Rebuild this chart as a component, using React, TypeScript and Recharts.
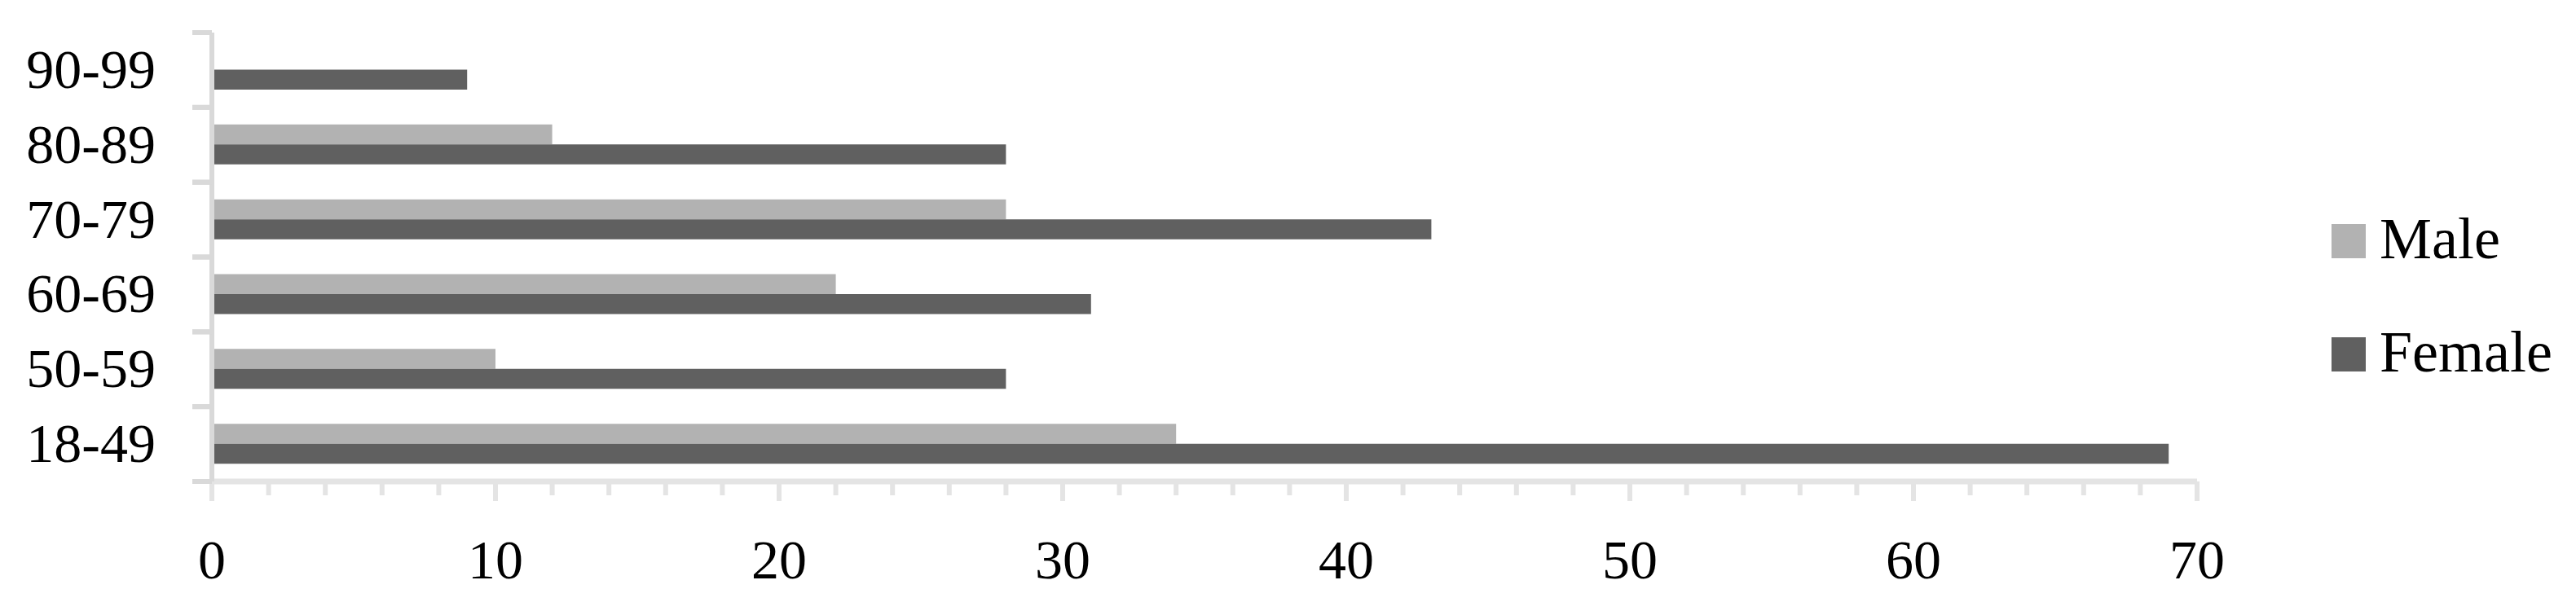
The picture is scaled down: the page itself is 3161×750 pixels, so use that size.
import React from "react";
import { BarChart, Bar, XAxis, YAxis, Legend } from "recharts";

const ageGroups = ["90-99", "80-89", "70-79", "60-69", "50-59", "18-49"];
const maleCounts = [0, 12, 28, 22, 10, 34];
const femaleCounts = [9, 28, 43, 31, 28, 69];
const xTicks = [0, 2, 4, 6, 8, 10, 12, 14, 16, 18, 20, 22, 24, 26, 28, 30, 32, 34, 36, 38, 40, 42, 44, 46, 48, 50, 52, 54, 56, 58, 60, 62, 64, 66, 68, 70];
const xLabelTicks = [0, 10, 20, 30, 40, 50, 60, 70];
const seriesNames = ["Male", "Female"];
const seriesColors = ["#b2b2b2", "#606060"];

const data = ageGroups.map((age, i) => ({
  age,
  Male: maleCounts[i],
  Female: femaleCounts[i],
}));

const FONT = "'Liberation Serif', 'Times New Roman', serif";
const Y_TICK_SIZE = 24;
const Y_TICK_MARGIN = 45;

const YTick = (props: any) => {
  const { x, y, payload } = props;
  const axisX = x + Y_TICK_SIZE + Y_TICK_MARGIN;
  const half = payload && payload.offset ? payload.offset : 45.9;
  return (
    <g>
      <line x1={axisX - Y_TICK_SIZE} x2={axisX} y1={y - half} y2={y - half} stroke="#d9d9d9" strokeWidth={6} />
      <line x1={axisX - Y_TICK_SIZE} x2={axisX} y1={y + half} y2={y + half} stroke="#d9d9d9" strokeWidth={6} />
      <text x={x} y={y} dy={22} textAnchor="end" fontFamily={FONT} fontSize={68} fill="#000">
        {payload.value}
      </text>
    </g>
  );
};

const XTick = (props: any) => {
  const { x, y, payload } = props;
  const major = xLabelTicks.includes(payload.value);
  return (
    <g>
      <line x1={x} x2={x} y1={y} y2={y + (major ? 24 : 17)} stroke="#e4e4e4" strokeWidth={6} />
      {major && (
        <text x={x} y={y + 119} textAnchor="middle" fontFamily={FONT} fontSize={68} fill="#000">
          {payload.value}
        </text>
      )}
    </g>
  );
};

const LegendContent = (props: any) => {
  const payload = [...(props.payload || [])].sort(
    (a: any, b: any) => seriesNames.indexOf(a.value) - seriesNames.indexOf(b.value)
  );
  return (
    <svg width={300} height={200} style={{ display: "block", overflow: "visible" }}>
      {payload.map((entry: any, i: number) => (
        <g key={entry.value} transform={`translate(0, ${i * 139})`}>
          <rect x={0} y={6} width={42} height={42} fill={entry.color} />
          <text x={59} y={48} fontFamily={FONT} fontSize={72} fill="#000">
            {entry.value}
          </text>
        </g>
      ))}
    </svg>
  );
};

export default function App() {
  return (
    <div style={{ position: "absolute", left: 0, top: 0, width: 3161, height: 750, background: "#fff" }}>
      <BarChart
        width={3161}
        height={750}
        data={data}
        layout="vertical"
        margin={{ top: 40, right: 465, bottom: 29, left: 0 }}
        barGap={0}
        barSize={24.5}
      >
        <XAxis
          type="number"
          domain={[0, 70]}
          ticks={xTicks}
          interval={0}
          height={130}
          tickSize={0}
          tickMargin={0}
          tickLine={false}
          axisLine={{ stroke: "#e4e4e4", strokeWidth: 7 }}
          tick={<XTick />}
        />
        <YAxis
          type="category"
          dataKey="age"
          width={260}
          interval={0}
          tickSize={Y_TICK_SIZE}
          tickMargin={Y_TICK_MARGIN}
          tickLine={false}
          axisLine={{ stroke: "#d9d9d9", strokeWidth: 6 }}
          tick={<YTick />}
        />
        <Legend
          layout="vertical"
          align="center"
          verticalAlign="middle"
          content={<LegendContent />}
          wrapperStyle={{ left: 2861, top: 269, width: 300, height: 200 }}
        />
        <Bar dataKey={seriesNames[0]} name={seriesNames[0]} fill={seriesColors[0]} isAnimationActive={false} />
        <Bar dataKey={seriesNames[1]} name={seriesNames[1]} fill={seriesColors[1]} isAnimationActive={false} />
      </BarChart>
    </div>
  );
}
